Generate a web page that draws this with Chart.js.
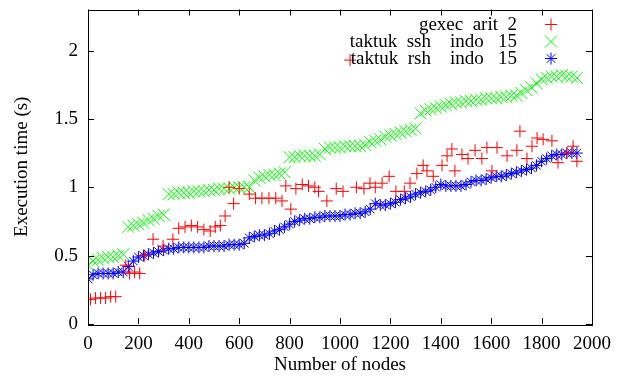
<!DOCTYPE html>
<html>
<head>
<meta charset="utf-8">
<script src="https://cdn.jsdelivr.net/npm/chart.js@4.4.1/dist/chart.umd.min.js"></script>
<style>
  html, body { margin: 0; padding: 0; background: #fff; }
  #wrap { width: 626px; height: 376px; }
</style>
</head>
<body>
<div id="wrap"><canvas id="c" width="626" height="376"></canvas></div>
<script>
// gexec arit 2 (red +)
var gexecNodes = [10, 30, 50, 70, 90, 110, 150, 165, 185, 205, 225, 258, 298, 337, 360, 385, 410, 435, 460, 485,
  505, 525, 544, 560, 578, 600, 640, 665, 690, 718, 745, 770, 785, 805, 825, 850, 875, 900, 915, 948,
  985, 1012, 1040, 1065, 1095, 1119, 1140, 1167, 1195, 1222, 1255, 1278, 1305, 1330, 1345, 1370, 1405, 1425, 1444, 1456,
  1484, 1508, 1536, 1563, 1583, 1603, 1623, 1663, 1702, 1714, 1742, 1762, 1782, 1806, 1841, 1865, 1900, 1925, 1940];
var gexecTime = [0.18, 0.19, 0.19, 0.19, 0.20, 0.20, 0.43, 0.37, 0.38, 0.37, 0.50, 0.62, 0.57, 0.62, 0.70, 0.71, 0.72, 0.71, 0.69, 0.68,
  0.71, 0.72, 0.79, 1.00, 0.88, 0.99, 0.95, 0.92, 0.92, 0.92, 0.92, 0.90, 1.01, 0.84, 0.99, 1.02, 1.01, 1.00, 0.97, 0.90,
  0.99, 0.97, 1.93, 1.00, 0.99, 1.03, 1.00, 1.03, 1.08, 0.97, 0.97, 1.03, 1.10, 1.16, 1.12, 1.08, 1.16, 1.23, 1.28, 1.12,
  1.24, 1.21, 1.27, 1.21, 1.29, 1.12, 1.29, 1.23, 1.27, 1.41, 1.21, 1.30, 1.36, 1.35, 1.34, 1.18, 1.25, 1.30, 1.19];

// taktuk nodes, shared by both taktuk series
var taktukNodes = [0, 20, 40, 60, 80, 100, 120, 140, 160, 180, 200, 220, 240, 260, 280, 300, 320, 340, 360, 380,
  400, 420, 440, 460, 480, 500, 520, 540, 560, 580, 600, 620, 640, 660, 680, 700, 720, 740, 760, 780,
  800, 820, 840, 860, 880, 900, 920, 940, 960, 980, 1000, 1020, 1040, 1060, 1080, 1100, 1120, 1140, 1160, 1180,
  1200, 1220, 1240, 1260, 1280, 1300, 1320, 1340, 1360, 1380, 1400, 1420, 1440, 1460, 1480, 1500, 1520, 1540, 1560, 1580,
  1600, 1620, 1640, 1660, 1680, 1700, 1720, 1740, 1760, 1780, 1800, 1820, 1840, 1860, 1880, 1900, 1920, 1940];

// taktuk ssh indo 15 (green x)
var sshTime = [0.43, 0.46, 0.47, 0.48, 0.49, 0.49, 0.50, 0.51, 0.71, 0.72, 0.73, 0.74, 0.76, 0.77, 0.79, 0.80, 0.95, 0.95, 0.96, 0.96,
  0.96, 0.97, 0.97, 0.97, 0.98, 0.98, 0.99, 0.99, 0.99, 1.00, 1.00, 1.00, 1.00, 1.05, 1.07, 1.08, 1.09, 1.09, 1.10, 1.11,
  1.22, 1.22, 1.23, 1.23, 1.23, 1.23, 1.24, 1.28, 1.29, 1.29, 1.29, 1.30, 1.30, 1.30, 1.30, 1.31, 1.33, 1.34, 1.35, 1.37,
  1.38, 1.39, 1.40, 1.41, 1.42, 1.43, 1.54, 1.56, 1.57, 1.58, 1.59, 1.60, 1.61, 1.62, 1.62, 1.63, 1.63, 1.64, 1.64, 1.65,
  1.65, 1.65, 1.66, 1.66, 1.67, 1.67, 1.69, 1.71, 1.73, 1.76, 1.79, 1.80, 1.81, 1.81, 1.82, 1.81, 1.81, 1.80];

// taktuk rsh indo 15 (blue *)
var rshTime = [0.33, 0.36, 0.37, 0.37, 0.37, 0.37, 0.38, 0.38, 0.42, 0.46, 0.49, 0.50, 0.51, 0.52, 0.53, 0.54, 0.55, 0.55, 0.56, 0.56,
  0.56, 0.56, 0.56, 0.56, 0.57, 0.57, 0.57, 0.57, 0.58, 0.58, 0.58, 0.59, 0.63, 0.64, 0.65, 0.65, 0.66, 0.68, 0.69, 0.71,
  0.73, 0.75, 0.76, 0.77, 0.77, 0.78, 0.78, 0.79, 0.79, 0.79, 0.79, 0.80, 0.80, 0.81, 0.81, 0.82, 0.84, 0.88, 0.87, 0.87,
  0.88, 0.89, 0.91, 0.92, 0.93, 0.95, 0.96, 0.97, 0.98, 1.00, 1.02, 1.01, 1.01, 1.01, 1.01, 1.02, 1.04, 1.05, 1.05, 1.06,
  1.07, 1.08, 1.08, 1.09, 1.10, 1.11, 1.12, 1.13, 1.14, 1.16, 1.19, 1.21, 1.23, 1.24, 1.24, 1.25, 1.25, 1.25];

var seriesNames = ['gexec  arit  2', 'taktuk  ssh    indo   15', 'taktuk  rsh    indo   15'];
var xTicks = [0, 200, 400, 600, 800, 1000, 1200, 1400, 1600, 1800, 2000];
var yTicks = [0, 0.5, 1, 1.5, 2];
var yTickLabels = ['0', '0.5', '1', '1.5', '2'];

var FONT = '"Liberation Serif", "DejaVu Serif", serif';
var FSIZE = 19;
var RED = '#ff0000', GREEN = '#00ff00', BLUE = '#0000ff';

function pts(xs, ys) {
  return xs.map(function (x, i) { return { x: x, y: ys[i] }; });
}

// gnuplot style inward ticks, border and key on the right
var gnuplotFrame = {
  id: 'gnuplotFrame',
  afterDatasetsDraw: function (chart) {
    var ctx = chart.ctx, a = chart.chartArea;
    var xs = chart.scales.x, ys = chart.scales.y;
    ctx.save();
    ctx.strokeStyle = '#000';
    ctx.lineWidth = 1;
    ctx.beginPath();
    xTicks.forEach(function (v) {
      var px = Math.round(xs.getPixelForValue(v)) + 0.5;
      ctx.moveTo(px, a.bottom); ctx.lineTo(px, a.bottom - 6);
      ctx.moveTo(px, a.top); ctx.lineTo(px, a.top + 6);
    });
    yTicks.forEach(function (v) {
      var py = Math.round(ys.getPixelForValue(v)) + 0.5;
      ctx.moveTo(a.left, py); ctx.lineTo(a.left + 6, py);
      ctx.moveTo(a.right, py); ctx.lineTo(a.right - 6, py);
    });
    ctx.stroke();
    ctx.strokeRect(Math.round(a.left) + 0.5, Math.round(a.top) + 0.5,
      Math.round(a.right - a.left), Math.round(a.bottom - a.top));

    // key
    ctx.font = FSIZE + 'px ' + FONT;
    ctx.fillStyle = '#000';
    ctx.textAlign = 'right';
    ctx.textBaseline = 'middle';
    var kx = a.right - 75, sx = a.right - 41, ky = a.top + 15;
    var colors = [RED, GREEN, BLUE];
    for (var i = 0; i < seriesNames.length; i++) {
      var y = ky + i * 17;
      ctx.fillText(seriesNames[i], kx, y + 1);
      ctx.strokeStyle = colors[i];
      ctx.beginPath();
      if (i === 0 || i === 2) {
        ctx.moveTo(sx - 6, y); ctx.lineTo(sx + 6, y);
        ctx.moveTo(sx, y - 6); ctx.lineTo(sx, y + 6);
      }
      if (i === 1 || i === 2) {
        var d = i === 1 ? 6 : 4.3;
        ctx.moveTo(sx - d, y - d); ctx.lineTo(sx + d, y + d);
        ctx.moveTo(sx - d, y + d); ctx.lineTo(sx + d, y - d);
      }
      ctx.stroke();
    }
    ctx.restore();
  }
};

new Chart(document.getElementById('c'), {
  type: 'scatter',
  data: {
    datasets: [
      { label: seriesNames[0], data: pts(gexecNodes, gexecTime), pointStyle: 'cross', pointRadius: 6,
        borderColor: RED, backgroundColor: RED, borderWidth: 1, showLine: false },
      { label: seriesNames[1], data: pts(taktukNodes, sshTime), pointStyle: 'crossRot', pointRadius: 8.5,
        borderColor: GREEN, backgroundColor: GREEN, borderWidth: 1, showLine: false },
      { label: seriesNames[2], data: pts(taktukNodes, rshTime), pointStyle: 'star', pointRadius: 6,
        borderColor: BLUE, backgroundColor: BLUE, borderWidth: 1, showLine: false }
    ]
  },
  options: {
    responsive: false,
    animation: false,
    events: [],
    layout: { padding: { top: 8, right: 34, left: 0, bottom: 0 } },
    plugins: { legend: { display: false }, tooltip: { enabled: false } },
    scales: {
      x: {
        type: 'linear', min: 0, max: 2000,
        afterBuildTicks: function (s) { s.ticks = xTicks.map(function (v) { return { value: v }; }); },
        afterFit: function (s) { s.height = 52; s.paddingLeft = 0; s.paddingRight = 0; },
        grid: { display: false, drawTicks: false },
        border: { display: false },
        ticks: { color: '#000', padding: 9, maxRotation: 0, autoSkip: false,
          font: { family: FONT, size: FSIZE }, callback: function (v) { return String(v); } },
        title: { display: true, text: 'Number of nodes', color: '#000',
          font: { family: FONT, size: FSIZE }, padding: { top: 0, bottom: 0 } }
      },
      y: {
        type: 'linear', min: 0, max: 2.3,
        afterBuildTicks: function (s) { s.ticks = yTicks.map(function (v) { return { value: v }; }); },
        afterFit: function (s) { s.width = 88; s.paddingTop = 0; s.paddingBottom = 0; },
        grid: { display: false, drawTicks: false },
        border: { display: false },
        ticks: { color: '#000', padding: 10, autoSkip: false,
          font: { family: FONT, size: FSIZE },
          callback: function (v) { var i = yTicks.indexOf(v); return i >= 0 ? yTickLabels[i] : ''; } },
        title: { display: true, text: 'Execution time (s)', color: '#000',
          font: { family: FONT, size: FSIZE }, padding: { top: 11, bottom: 0 } }
      }
    }
  },
  plugins: [gnuplotFrame]
});
</script>
</body>
</html>
